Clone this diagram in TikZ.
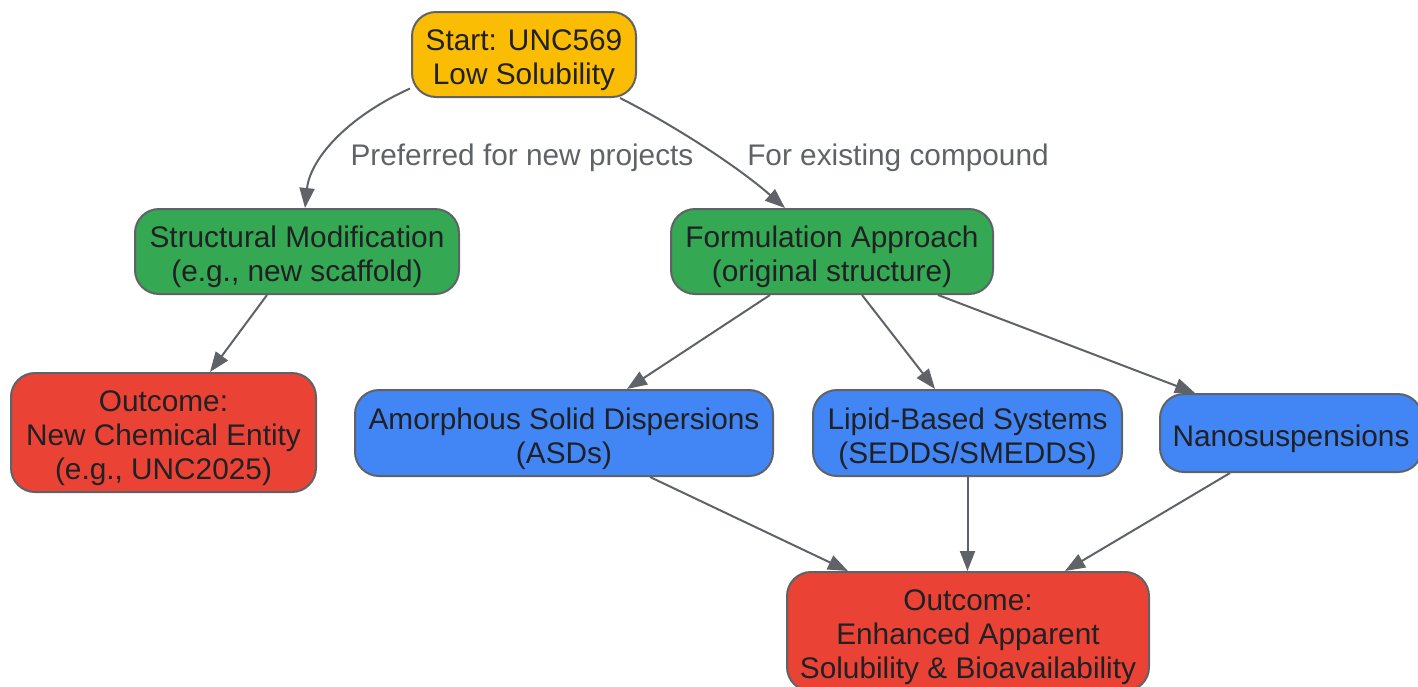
\documentclass[tikz,border=0pt]{standalone}
\usepackage{fontspec}
\setmainfont{Liberation Sans}
\usetikzlibrary{arrows.meta}
\definecolor{edgegray}{HTML}{5F6368}
\definecolor{textdark}{HTML}{202124}
\definecolor{gyellow}{HTML}{FBBC04}
\definecolor{ggreen}{HTML}{34A853}
\definecolor{gred}{HTML}{EA4335}
\definecolor{gblue}{HTML}{4285F4}
\newcommand{\tstrut}{\rule{0pt}{33pt}}
\newcommand{\bstrut}{\rule[-7pt]{0pt}{7pt}}
\begin{document}
\begin{tikzpicture}[x=1pt,y=-1pt,
  box/.style={draw=edgegray, line width=2pt, rounded corners=24pt, align=center, inner sep=0pt, text=textdark, font=\fontsize{29.8}{34}\selectfont},
  conn/.style={draw=edgegray, line width=2pt, -{Triangle[length=20pt,width=15pt]}},
  lbl/.style={text=edgegray, inner sep=0pt, font=\fontsize{29.8}{34}\selectfont}]
\useasboundingbox (0,0) rectangle (1418,686);
\clip (0,0) rectangle (1418,686);
% nodes
\node[box, fill=gyellow, minimum width=224pt, minimum height=85pt] (start) at (524,54.5) {\tstrut Start: UNC569\\Low Solubility\bstrut};
\node[box, fill=ggreen, minimum width=324pt, minimum height=85pt] (struct) at (297,251.5) {\tstrut Structural Modification\\(e.g., new scaffold)\bstrut};
\node[box, fill=ggreen, minimum width=322pt, minimum height=85pt] (form) at (832,251.5) {\tstrut Formulation Approach\\(original structure)\bstrut};
\node[box, fill=gred, minimum width=305pt, minimum height=119pt] (nce) at (163.5,432.5) {\tstrut Outcome:\\New Chemical Entity\\(e.g., UNC2025)\bstrut};
\node[box, fill=gblue, minimum width=418pt, minimum height=86pt] (asd) at (564,433) {\tstrut Amorphous Solid Dispersions\\(ASDs)\bstrut};
\node[box, fill=gblue, minimum width=309pt, minimum height=86pt] (lipid) at (967.5,433) {\tstrut Lipid-Based Systems\\(SEDDS/SMEDDS)\bstrut};
\node[box, fill=gblue, minimum width=262pt, minimum height=78pt] (nano) at (1291,433) {\tstrut Nanosuspensions\bstrut};
\node[box, fill=gred, minimum width=362pt, minimum height=119pt] (out) at (968,631.5) {\tstrut Outcome:\\Enhanced Apparent\\Solubility \& Bioavailability\bstrut};
% labels
\node[lbl] (l1) at (522,158) {Preferred for new projects};
\node[lbl] (l2) at (898,158) {For existing compound};
% connectors
\draw[conn] ([xshift=-114pt,yshift=-34pt]start.center) .. controls (345,118) and (310,160) .. ([xshift=8pt]struct.north);
\draw[conn] ([xshift=96pt]start.south) .. controls (660,118) and (730,160) .. ([xshift=-47pt]form.north);
\draw[conn] ([xshift=-30pt]struct.south) -- ([xshift=46.5pt]nce.north);
\draw[conn] ([xshift=-62pt]form.south) -- ([xshift=63pt]asd.north);
\draw[conn] ([xshift=30pt]form.south) -- ([xshift=-32.5pt]lipid.north);
\draw[conn] ([xshift=106pt]form.south) -- ([xshift=-96pt]nano.north);
\draw[conn] ([xshift=86pt]asd.south) -- ([xshift=-120pt]out.north);
\draw[conn] (lipid.south) -- (out.north -| lipid.south);
\draw[conn] ([xshift=-61pt]nano.south) -- ([xshift=97pt]out.north);
\end{tikzpicture}
\end{document}
